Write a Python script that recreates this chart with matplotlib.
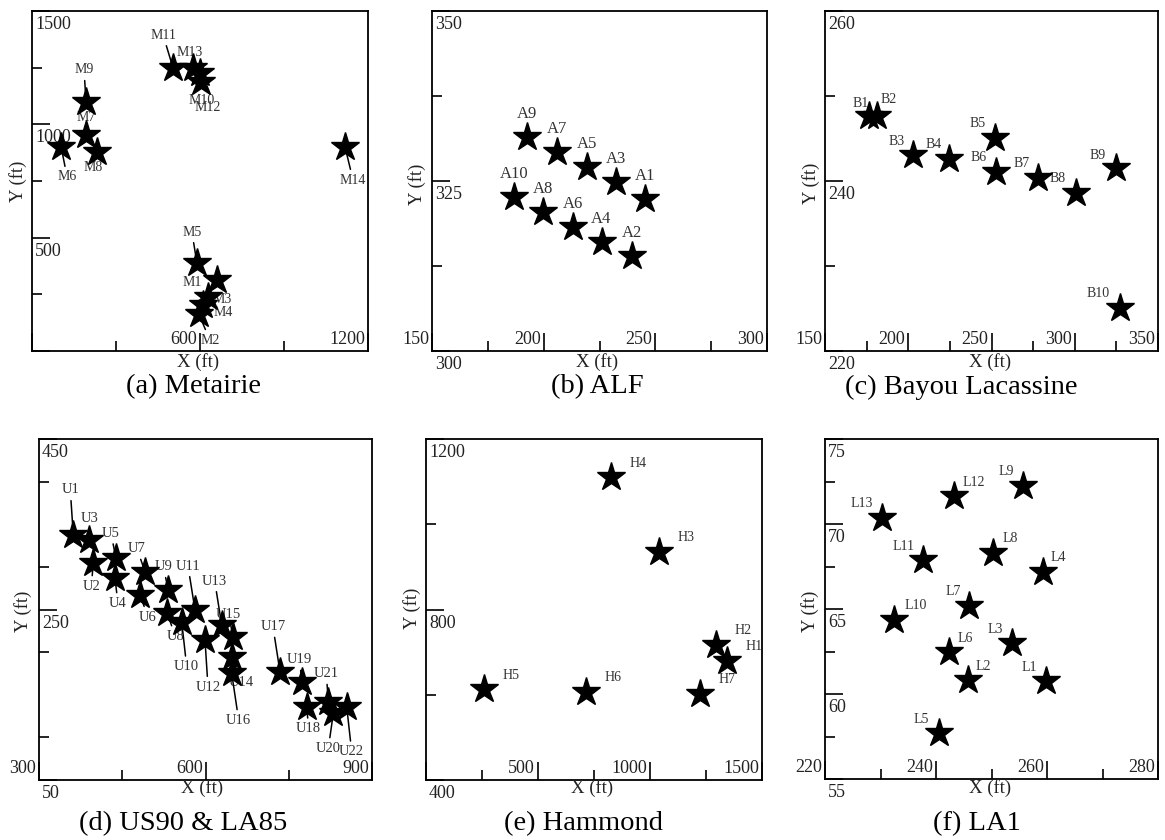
import matplotlib
matplotlib.use('Agg')
import matplotlib.pyplot as plt
from matplotlib.ticker import FixedLocator, MultipleLocator

plt.rcParams['font.family'] = ['Liberation Serif', 'DejaVu Serif']

# ---------------- data ----------------
met_names = ['M1', 'M2', 'M3', 'M4', 'M5', 'M6', 'M7', 'M8', 'M9', 'M10', 'M11', 'M12', 'M13', 'M14']
met_x = [661, 596, 629, 611, 589, 104, 193, 232, 193, 600, 504, 603, 575, 1118]
met_y = [313, 163, 238, 203, 388, 900, 953, 878, 1099, 1226, 1248, 1187, 1248, 900]

alf_names = ['A1', 'A2', 'A3', 'A4', 'A5', 'A6', 'A7', 'A8', 'A9', 'A10']
alf_x = [245.4, 239.4, 232.3, 225.9, 219.3, 213.0, 205.8, 199.8, 192.7, 186.9]
alf_y = [322.4, 313.9, 324.8, 316.1, 327.0, 318.3, 329.2, 320.4, 331.5, 322.7]

bay_names = ['B1', 'B2', 'B3', 'B4', 'B5', 'B6', 'B7', 'B8', 'B9', 'B10']
bay_x = [176.6, 181.0, 203.0, 224.7, 252.1, 252.7, 278.1, 300.8, 324.8, 326.9]
bay_y = [247.6, 247.6, 243.0, 242.6, 245.1, 241.1, 240.3, 238.6, 241.5, 225.1]

us_names = ['U1', 'U2', 'U3', 'U4', 'U5', 'U6', 'U7', 'U8', 'U9', 'U10', 'U11',
            'U12', 'U13', 'U14', 'U15', 'U16', 'U17', 'U18', 'U19', 'U20', 'U21', 'U22']
us_x = [361.8, 397.8, 390.6, 436.9, 438.7, 482.0, 491.0, 531.2, 533.0, 557.1, 581.1,
        599.1, 629.2, 647.2, 650.1, 647.2, 734.2, 782.3, 773.3, 830.3, 821.3, 854.4]
us_y = [337.4, 304.2, 331.5, 286.6, 310.1, 267.0, 294.3, 245.5, 272.9, 235.7, 249.4,
        214.2, 231.8, 194.6, 218.1, 175.2, 177.0, 136.0, 165.3, 128.2, 141.8, 136.0]

ham_names = ['H1', 'H2', 'H3', 'H4', 'H5', 'H6', 'H7']
ham_x = [1342, 1295, 1042, 826, 260, 713, 1223]
ham_y = [680, 717, 936, 1110, 613, 607, 602]

la_names = ['L1', 'L2', 'L3', 'L4', 'L5', 'L6', 'L7', 'L8', 'L9', 'L10', 'L11', 'L12', 'L13']
la_x = [259.8, 245.7, 253.7, 259.3, 240.6, 242.4, 246.0, 250.3, 255.6, 232.5, 237.7, 243.3, 230.3]
la_y = [60.76, 60.82, 62.98, 67.19, 57.69, 62.49, 65.19, 68.31, 72.24, 64.38, 67.88, 71.65, 70.37]

# axis ranges / ticks / tick labels
met_xlim, met_xstep, met_xmajor = (0, 1200), 300, [0, 600, 1200]
met_xticklabels = [(600, '600'), (1200, '1200')]
met_ylim, met_ystep, met_ymajor = (0, 1500), 250, [0, 500, 1000, 1500]
met_yticklabels = [(500, '500'), (1000, '1000'), (1500, '1500')]

alf_xlim, alf_xstep, alf_xmajor = (150, 300), 25, [150, 200, 250, 300]
alf_xticklabels = [(150, '150'), (200, '200'), (250, '250'), (300, '300')]
alf_ylim, alf_ystep, alf_ymajor = (300, 350), 12.5, [300, 325, 350]
alf_yticklabels = [(300, '300'), (325, '325'), (350, '350')]

bay_xlim, bay_xstep, bay_xmajor = (150, 350), 25, [150, 200, 250, 300, 350]
bay_xticklabels = [(150, '150'), (200, '200'), (250, '250'), (300, '300'), (350, '350')]
bay_ylim, bay_ystep, bay_ymajor = (220, 260), 10, [220, 240, 260]
bay_yticklabels = [(220, '220'), (240, '240'), (260, '260')]

us_xlim, us_xstep, us_xmajor = (300, 900), 150, [300, 600, 900]
us_xticklabels = [(300, '300'), (600, '600'), (900, '900')]
us_ylim, us_ystep, us_ymajor = (50, 450), 100, [50, 250, 450]
us_yticklabels = [(50, '50'), (250, '250'), (450, '450')]

ham_xlim, ham_xstep, ham_xmajor = (0, 1500), 250, [0, 500, 1000, 1500]
ham_xticklabels = [(500, '500'), (1000, '1000'), (1500, '1500')]
ham_ylim, ham_ystep, ham_ymajor = (400, 1200), 200, [400, 800, 1200]
ham_yticklabels = [(400, '400'), (800, '800'), (1200, '1200')]

la_xlim, la_xstep, la_xmajor = (220, 280), 10, [220, 240, 260, 280]
la_xticklabels = [(220, '220'), (240, '240'), (260, '260'), (280, '280')]
la_ylim, la_ystep, la_ymajor = (55, 75), 2.5, [55, 60, 65, 70, 75]
la_yticklabels = [(55, '55'), (60, '60'), (65, '65'), (70, '70'), (75, '75')]

captions = ['(a) Metairie', '(b) ALF', '(c) Bayou Lacassine',
            '(d) US90 & LA85', '(e) Hammond', '(f) LA1']

# ---------------- layout (pixels) ----------------
W, H = 1165, 840
fig = plt.figure(figsize=(W / 100, H / 100), dpi=100)

boxes = [(32, 11, 368, 351), (432, 11, 767, 351), (825, 11, 1158, 351),
         (39, 439, 372, 780), (426, 439, 762, 780), (825, 439, 1158, 779)]
caption_pos = [(194, 387), (597, 387), (961, 387), (183, 824), (583, 824), (977, 824)]
xlabel_pos = [(198, 362), (597, 362), (990, 362), (202, 788), (592, 788), (990, 788)]
ylabel_pos = [(18, 181), (417, 184), (811, 183), (23, 611), (412, 608), (810, 611)]

# label offsets (dx, dy) in pixels, dy positive downward; third item: leader line
met_off = {'M1': (-25, 2, 0), 'M2': (11, 26, 1), 'M3': (14, 2, 0), 'M4': (20, 8, 0),
           'M5': (-5, -31, 1), 'M6': (6, 30, 1), 'M7': (0, -17, 0), 'M8': (-4, 16, 0),
           'M9': (-2, -32, 1), 'M10': (2, 27, 0), 'M11': (-10, -33, 1), 'M12': (7, 26, 0),
           'M13': (-3, -16, 0), 'M14': (8, 33, 1)}
alf_off = {n: (0, -23, 0) for n in alf_names}
bay_off = {'B1': (-9, -13, 0), 'B2': (12, -17, 0), 'B3': (-17, -14, 0), 'B4': (-16, -14, 0),
           'B5': (-17, -14, 0), 'B6': (-17, -14, 0), 'B7': (-17, -15, 0), 'B8': (-18, -14, 0),
           'B9': (-18, -13, 0), 'B10': (-21, -14, 0)}
us_off = {'U1': (-3, -45, 1), 'U2': (-2, 23, 1), 'U3': (0, -22, 1), 'U4': (3, 25, 1),
          'U5': (-5, -25, 1), 'U6': (8, 22, 1), 'U7': (-8, -23, 1), 'U8': (8, 23, 1),
          'U9': (-5, -23, 1), 'U10': (5, 45, 1), 'U11': (-7, -44, 1), 'U12': (3, 47, 1),
          'U13': (-7, -44, 1), 'U14': (10, 26, 1), 'U15': (-5, -22, 1), 'U16': (7, 47, 1),
          'U17': (-7, -45, 1), 'U18': (2, 22, 1), 'U19': (-2, -22, 1), 'U20': (-5, 35, 1),
          'U21': (-2, -28, 1), 'U22': (5, 45, 1)}
ham_off = {n: (27, -14, 0) for n in ham_names}
la_off = {'L1': (-17, -14, 0), 'L2': (16, -14, 0), 'L3': (-17, -14, 0), 'L4': (15, -14, 0),
          'L5': (-18, -14, 0), 'L6': (16, -13, 0), 'L7': (-16, -14, 0), 'L8': (17, -14, 0),
          'L9': (-16, -14, 0), 'L10': (21, -14, 0), 'L11': (-20, -14, 0), 'L12': (19, -13, 0),
          'L13': (-20, -14, 0)}

panels = [
    (met_names, met_x, met_y, met_off, 10, met_xlim, met_xstep, met_xmajor, met_xticklabels,
     met_ylim, met_ystep, met_ymajor, met_yticklabels),
    (alf_names, alf_x, alf_y, alf_off, 12, alf_xlim, alf_xstep, alf_xmajor, alf_xticklabels,
     alf_ylim, alf_ystep, alf_ymajor, alf_yticklabels),
    (bay_names, bay_x, bay_y, bay_off, 10, bay_xlim, bay_xstep, bay_xmajor, bay_xticklabels,
     bay_ylim, bay_ystep, bay_ymajor, bay_yticklabels),
    (us_names, us_x, us_y, us_off, 10.5, us_xlim, us_xstep, us_xmajor, us_xticklabels,
     us_ylim, us_ystep, us_ymajor, us_yticklabels),
    (ham_names, ham_x, ham_y, ham_off, 10, ham_xlim, ham_xstep, ham_xmajor, ham_xticklabels,
     ham_ylim, ham_ystep, ham_ymajor, ham_yticklabels),
    (la_names, la_x, la_y, la_off, 10, la_xlim, la_xstep, la_xmajor, la_xticklabels,
     la_ylim, la_ystep, la_ymajor, la_yticklabels),
]

TICK_FS = 13
LABEL_COLOR = '#333333'

for i, p in enumerate(panels):
    (names, xs, ys, offs, lfs, xlim, xstep, xmajor, xtl,
     ylim, ystep, ymajor, ytl) = p
    l, t, r, b = boxes[i]
    ax = fig.add_axes([l / W, 1 - b / H, (r - l) / W, (b - t) / H])
    ax.set_xlim(*xlim)
    ax.set_ylim(*ylim)
    for s in ax.spines.values():
        s.set_linewidth(1.3)
    ax.xaxis.set_major_locator(FixedLocator(xmajor))
    ax.xaxis.set_minor_locator(MultipleLocator(xstep))
    ax.yaxis.set_major_locator(FixedLocator(ymajor))
    ax.yaxis.set_minor_locator(MultipleLocator(ystep))
    ax.tick_params(which='both', direction='in', top=False, right=False,
                   labelbottom=False, labelleft=False, width=1.2)
    ax.tick_params(which='major', length=13)
    ax.tick_params(which='minor', length=7)

    # tick labels drawn inside the box
    for v, s in xtl:
        ax.annotate(s, xy=(v, 0), xycoords=('data', 'axes fraction'),
                    xytext=(-3, 3), textcoords='offset pixels',
                    ha='right', va='bottom', fontsize=TICK_FS, color='#222222',
                    annotation_clip=False)
    for v, s in ytl:
        ax.annotate(s, xy=(0, v), xycoords=('axes fraction', 'data'),
                    xytext=(3, -5), textcoords='offset pixels',
                    ha='left', va='top', fontsize=TICK_FS, color='#222222',
                    annotation_clip=False)

    # stars
    ax.plot(xs, ys, linestyle='none', marker='*', ms=21, color='black',
            zorder=4, clip_on=False)

    # point labels
    for n, x, y in zip(names, xs, ys):
        dx, dy, lead = offs[n]
        kw = {}
        if lead:
            kw['arrowprops'] = dict(arrowstyle='-', color='black', lw=1.1,
                                    shrinkA=1, shrinkB=0)
        ax.annotate(n, xy=(x, y), xytext=(dx, -dy), textcoords='offset pixels',
                    ha='center', va='center', fontsize=lfs, color=LABEL_COLOR,
                    zorder=3, annotation_clip=False, **kw)

    # axis titles and caption
    xp, yp = xlabel_pos[i]
    fig.text(xp / W, 1 - yp / H, 'X (ft)', ha='center', va='center', fontsize=13.5, color='#222222')
    xp, yp = ylabel_pos[i]
    fig.text(xp / W, 1 - yp / H, 'Y (ft)', ha='center', va='center', fontsize=13.5,
             rotation=90, color='#222222')
    xp, yp = caption_pos[i]
    fig.text(xp / W, 1 - yp / H, captions[i], ha='center', va='center', fontsize=20.5, color='black')

fig.savefig('out.png', dpi=100)
